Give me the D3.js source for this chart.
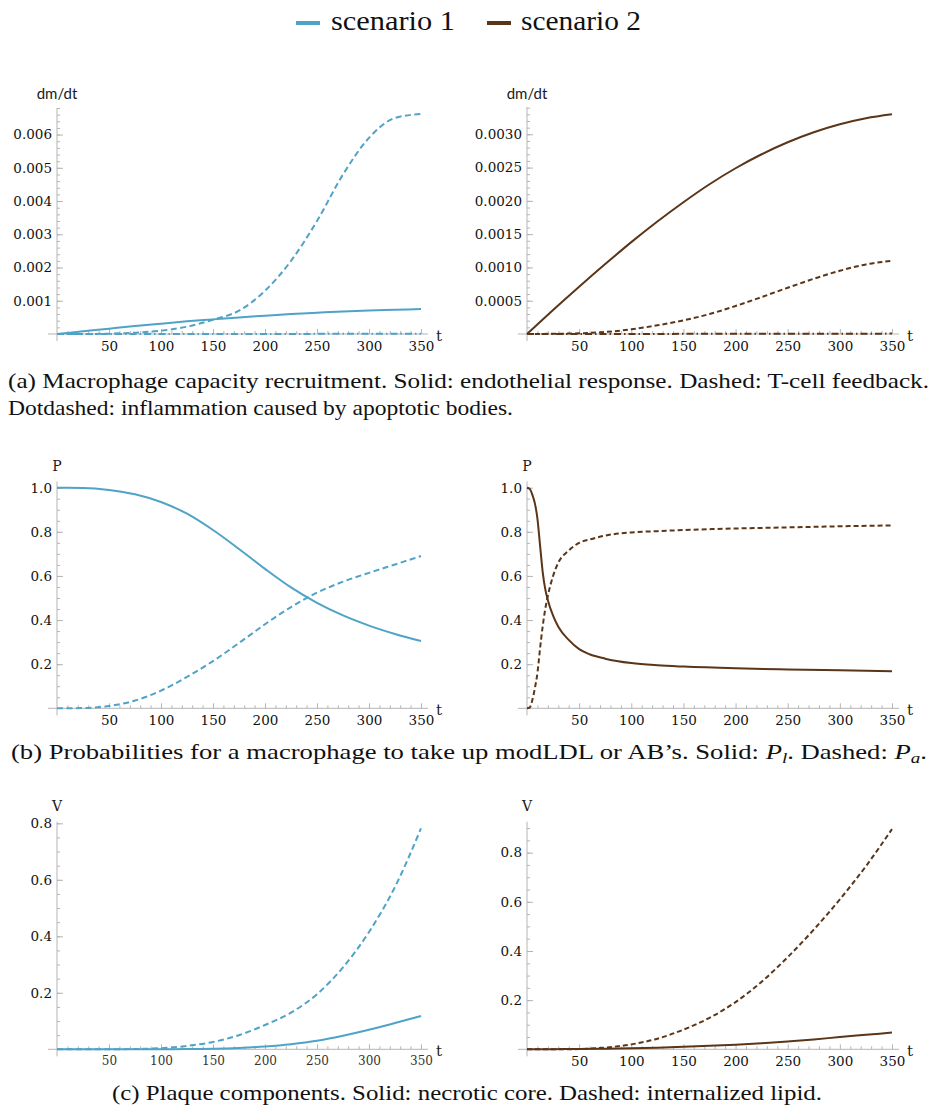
<!DOCTYPE html>
<html>
<head>
<meta charset="utf-8">
<script src="https://cdnjs.cloudflare.com/ajax/libs/d3/7.8.5/d3.min.js"></script>
<style>
  html, body { margin: 0; padding: 0; background: #fff; }
  svg { display: block; }
</style>
</head>
<body>
<svg id="fig" width="933" height="1108"></svg>
<script>
// ---- series data -------------------------------------------------------
const tGrid = [0, 25, 50, 75, 100, 125, 150, 175, 200, 225, 250, 275, 300, 325, 350];

// (a) macrophage capacity recruitment dm/dt
const recruitEndoS1   = [0, 0.00008, 0.00016, 0.00024, 0.00031, 0.00038, 0.00044, 0.0005, 0.00055, 0.0006, 0.00064, 0.00068, 0.00071, 0.00073, 0.00075];
const recruitTcellS1  = [0, 0, 0.00001, 0.00004, 0.0001, 0.00022, 0.00043, 0.0007, 0.0013, 0.0022, 0.0034, 0.0048, 0.0059, 0.0065, 0.00662];
const recruitApopS1   = [0, 0, 0, 0, 0, 0, 0, 0, 0.000002, 0.000003, 0.000004, 0.000005, 0.000006, 0.000007, 0.000008];
const recruitEndoS2   = [0, 0.00036, 0.00071, 0.00105, 0.00138, 0.00169, 0.00198, 0.00225, 0.00249, 0.0027, 0.00288, 0.00303, 0.00315, 0.00324, 0.0033];
const recruitTcellS2  = [0, 0.000003, 0.00001, 0.00003, 0.00007, 0.00013, 0.000205, 0.0003, 0.00042, 0.000555, 0.000695, 0.00083, 0.00095, 0.001045, 0.0011];
const recruitApopS2   = [0, 0, 0, 0, 0.000001, 0.000001, 0.000002, 0.000002, 0.000003, 0.000003, 0.000004, 0.000004, 0.000005, 0.000005, 0.000006];

// (b) uptake probabilities
const probPlS1 = [1, 0.999, 0.99, 0.97, 0.935, 0.882, 0.808, 0.722, 0.632, 0.548, 0.478, 0.421, 0.375, 0.337, 0.305];
const probPaS1 = [0, 0.001, 0.01, 0.035, 0.08, 0.142, 0.214, 0.296, 0.381, 0.459, 0.524, 0.574, 0.614, 0.652, 0.69];
const tFast    = [0, 2.5, 5, 7.5, 10, 12.5, 15, 17.5, 20, 25, 30, 40, 50, 60, 75, 100, 125, 150, 200, 250, 300, 350];
const probPlS2 = [1, 0.995, 0.97, 0.93, 0.86, 0.74, 0.62, 0.54, 0.49, 0.42, 0.37, 0.31, 0.268, 0.245, 0.225, 0.205, 0.195, 0.189, 0.181, 0.176, 0.172, 0.168];
const probPaS2 = [0, 0.003, 0.035, 0.09, 0.16, 0.27, 0.37, 0.45, 0.51, 0.6, 0.66, 0.715, 0.75, 0.765, 0.783, 0.797, 0.803, 0.808, 0.815, 0.82, 0.825, 0.829];

// (c) plaque components
const coreS1  = [0, 0, 0, 0, 0.0003, 0.001, 0.002, 0.005, 0.01, 0.018, 0.03, 0.048, 0.069, 0.093, 0.118];
const lipidS1 = [0, 0, 0, 0.001, 0.004, 0.012, 0.026, 0.05, 0.086, 0.13, 0.195, 0.29, 0.415, 0.575, 0.782];
const coreS2  = [0, 0.0005, 0.0015, 0.0027, 0.004, 0.0065, 0.01, 0.014, 0.019, 0.025, 0.032, 0.04, 0.05, 0.059, 0.068];
const lipidS2 = [0, 0, 0.001, 0.007, 0.02, 0.043, 0.08, 0.128, 0.192, 0.275, 0.375, 0.487, 0.61, 0.745, 0.896];

// ---- tick values --------------------------------------------------------
const timeTicks     = [50, 100, 150, 200, 250, 300, 350];
const recruitTicks1 = [0.001, 0.002, 0.003, 0.004, 0.005, 0.006];
const recruitTicks2 = [0.0005, 0.0010, 0.0015, 0.0020, 0.0025, 0.0030];
const probTicks     = [0.2, 0.4, 0.6, 0.8, 1.0];
const volTicks      = [0.2, 0.4, 0.6, 0.8];

const seriesNames = ["scenario 1", "scenario 2"];

// ---- styling -------------------------------------------------------------
const BLUE = "#4fa3c7";
const BROWN = "#5b3518";
const AXIS = "#b5b5b5";
const TICKFONT = "'DejaVu Serif', 'Liberation Serif', serif";

const svg = d3.select("#fig");

function rangeStep(lo, hi, step) {
  const out = [];
  for (let i = 0; lo + i * step <= hi + 1e-12; i++) out.push(+(lo + i * step).toFixed(8));
  return out;
}

function panel(cfg) {
  const x = d3.scaleLinear().domain([0, 350]).range(cfg.xRange);
  const y = d3.scaleLinear().domain([0, cfg.yMax]).range([cfg.y0, cfg.yTop]);
  const g = svg.append("g");

  // axis lines
  g.append("line").attr("x1", cfg.xRange[0] - 9).attr("x2", cfg.xRange[1] + 7)
    .attr("y1", cfg.y0).attr("y2", cfg.y0).attr("stroke", AXIS).attr("stroke-width", 1);
  g.append("line").attr("x1", cfg.xRange[0]).attr("x2", cfg.xRange[0])
    .attr("y1", cfg.yTop).attr("y2", cfg.y0 + 7).attr("stroke", AXIS).attr("stroke-width", 1);

  // x minor ticks
  const xMinor = rangeStep(10, 350, 10).filter(v => v % 50 !== 0);
  g.append("g").attr("transform", `translate(0,${cfg.y0})`)
    .call(d3.axisBottom(x).tickValues(xMinor).tickSize(-3).tickFormat(""))
    .call(s => s.select(".domain").remove())
    .call(s => s.selectAll("line").attr("stroke", AXIS));
  // x major ticks
  g.append("g").attr("transform", `translate(0,${cfg.y0})`)
    .call(d3.axisBottom(x).tickValues(timeTicks).tickSize(-5).tickPadding(7).tickFormat(d3.format("d")))
    .call(s => s.select(".domain").remove())
    .call(s => s.selectAll("line").attr("stroke", AXIS))
    .call(s => s.selectAll("text").attr("font-family", TICKFONT).attr("font-size", cfg.xTickSize || 13.5)
      .attr("fill", cfg.xTickColor || "#111"));

  // y minor ticks
  const yMinor = rangeStep(cfg.yMinorStep, cfg.yMax, cfg.yMinorStep);
  g.append("g").attr("transform", `translate(${cfg.xRange[0]},0)`)
    .call(d3.axisLeft(y).tickValues(yMinor).tickSize(-3).tickFormat(""))
    .call(s => s.select(".domain").remove())
    .call(s => s.selectAll("line").attr("stroke", AXIS));
  // y major ticks
  g.append("g").attr("transform", `translate(${cfg.xRange[0]},0)`)
    .call(d3.axisLeft(y).tickValues(cfg.yTicks).tickSize(-6).tickPadding(5).tickFormat(d3.format(cfg.yFormat)))
    .call(s => s.select(".domain").remove())
    .call(s => s.selectAll("line").attr("stroke", AXIS))
    .call(s => s.selectAll("text").attr("font-family", TICKFONT).attr("font-size", 13.5).attr("fill", "#111"));

  // axis labels
  g.append("text").attr("x", cfg.xRange[0]).attr("y", cfg.labelY)
    .attr("text-anchor", "middle").attr("dominant-baseline", "central")
    .attr("font-family", cfg.labelFont).attr("font-size", cfg.labelSize)
    .attr("fill", "#1a1a1a").text(cfg.yLabel);
  g.append("text").attr("x", cfg.xRange[1] + 18).attr("y", cfg.y0 + 2)
    .attr("text-anchor", "middle").attr("dominant-baseline", "central")
    .attr("font-family", TICKFONT).attr("font-size", 15)
    .attr("fill", "#1a1a1a").text("t");

  // curves
  const line = d3.line().curve(d3.curveMonotoneX);
  cfg.series.forEach(s => {
    const pts = s.t.map((tv, i) => [x(tv), y(s.v[i])]);
    g.append("path").attr("d", line(pts))
      .attr("fill", "none").attr("stroke", cfg.color)
      .attr("stroke-width", 2)
      .attr("stroke-dasharray", s.dash || null);
  });
}

const L = [57, 421], R = [527, 892];
const DASH1 = "6,3.5", DASH2 = "5,3", DOTDASH = "7,3,1.5,3";
const sans = "Lato, 'Open Sans', sans-serif";

// (a)
panel({ xRange: L, y0: 334, yTop: 108, yMax: 0.0068, yTicks: recruitTicks1, yMinorStep: 0.0002, yFormat: ".3f",
  yLabel: "dm/dt", labelY: 93, labelFont: sans, labelSize: 15, color: BLUE,
  series: [{ t: tGrid, v: recruitEndoS1 }, { t: tGrid, v: recruitTcellS1, dash: DASH1 }, { t: tGrid, v: recruitApopS1, dash: DOTDASH }] });
panel({ xRange: R, y0: 334, yTop: 107, yMax: 0.00341, yTicks: recruitTicks2, yMinorStep: 0.0001, yFormat: ".4f",
  yLabel: "dm/dt", labelY: 93, labelFont: sans, labelSize: 15, color: BROWN,
  series: [{ t: tGrid, v: recruitEndoS2 }, { t: tGrid, v: recruitTcellS2, dash: DASH2 }, { t: tGrid, v: recruitApopS2, dash: DOTDASH }] });

// (b)
panel({ xRange: L, y0: 708.3, yTop: 481.5, yMax: 1.028, yTicks: probTicks, yMinorStep: 0.05, yFormat: ".1f",
  yLabel: "P", labelY: 466, labelFont: TICKFONT, labelSize: 14, color: BLUE,
  series: [{ t: tGrid, v: probPlS1 }, { t: tGrid, v: probPaS1, dash: DASH1 }] });
panel({ xRange: R, y0: 708.3, yTop: 481.5, yMax: 1.028, yTicks: probTicks, yMinorStep: 0.05, yFormat: ".1f",
  yLabel: "P", labelY: 466, labelFont: TICKFONT, labelSize: 14, color: BROWN,
  series: [{ t: tFast, v: probPlS2 }, { t: tFast, v: probPaS2, dash: DASH2 }] });

// (c)
panel({ xRange: L, y0: 1049.3, yTop: 821.7, yMax: 0.8057, yTicks: volTicks, yMinorStep: 0.05, yFormat: ".1f",
  yLabel: "V", labelY: 806, labelFont: TICKFONT, labelSize: 14, color: BLUE, xTickSize: 12, xTickColor: "#333",
  series: [{ t: tGrid, v: coreS1 }, { t: tGrid, v: lipidS1, dash: DASH1 }] });
panel({ xRange: R, y0: 1049.3, yTop: 821.7, yMax: 0.926, yTicks: volTicks, yMinorStep: 0.05, yFormat: ".1f",
  yLabel: "V", labelY: 806, labelFont: TICKFONT, labelSize: 14, color: BROWN,
  series: [{ t: tGrid, v: coreS2 }, { t: tGrid, v: lipidS2, dash: DASH2 }] });

// ---- legend -------------------------------------------------------------
const legend = svg.append("g").attr("font-family", "'Liberation Serif', serif").attr("font-size", 27).attr("fill", "#111");
const legendItems = [
  { name: seriesNames[0], color: BLUE, x: 296, tx: 331, tw: 124 },
  { name: seriesNames[1], color: BROWN, x: 487, tx: 521, tw: 120 }
];
legendItems.forEach(d => {
  legend.append("line").attr("x1", d.x).attr("x2", d.x + 24).attr("y1", 23).attr("y2", 23)
    .attr("stroke", d.color).attr("stroke-width", 4);
  legend.append("text").attr("x", d.tx).attr("y", 30).attr("textLength", d.tw)
    .attr("lengthAdjust", "spacingAndGlyphs").text(d.name);
});

// ---- captions -----------------------------------------------------------
const cap = svg.append("g").attr("font-family", "'Liberation Serif', serif").attr("font-size", 21).attr("fill", "#111");
cap.append("text").attr("x", 8).attr("y", 388).attr("textLength", 921).attr("lengthAdjust", "spacingAndGlyphs")
  .text("(a) Macrophage capacity recruitment. Solid: endothelial response. Dashed: T-cell feedback.");
cap.append("text").attr("x", 8).attr("y", 415).attr("textLength", 505).attr("lengthAdjust", "spacingAndGlyphs")
  .text("Dotdashed: inflammation caused by apoptotic bodies.");

const capB = cap.append("text").attr("x", 11).attr("y", 759).attr("textLength", 916).attr("lengthAdjust", "spacingAndGlyphs");
capB.append("tspan").text("(b) Probabilities for a macrophage to take up modLDL or AB\u2019s. Solid: ");
capB.append("tspan").attr("font-style", "italic").text("P");
capB.append("tspan").attr("font-style", "italic").attr("font-size", 15).attr("dy", 4).text("l");
capB.append("tspan").attr("dy", -4).text(". Dashed: ");
capB.append("tspan").attr("font-style", "italic").text("P");
capB.append("tspan").attr("font-style", "italic").attr("font-size", 15).attr("dy", 4).text("a");
capB.append("tspan").attr("dy", -4).text(".");

cap.append("text").attr("x", 112).attr("y", 1100).attr("textLength", 710).attr("lengthAdjust", "spacingAndGlyphs")
  .text("(c) Plaque components. Solid: necrotic core. Dashed: internalized lipid.");
</script>
</body>
</html>
